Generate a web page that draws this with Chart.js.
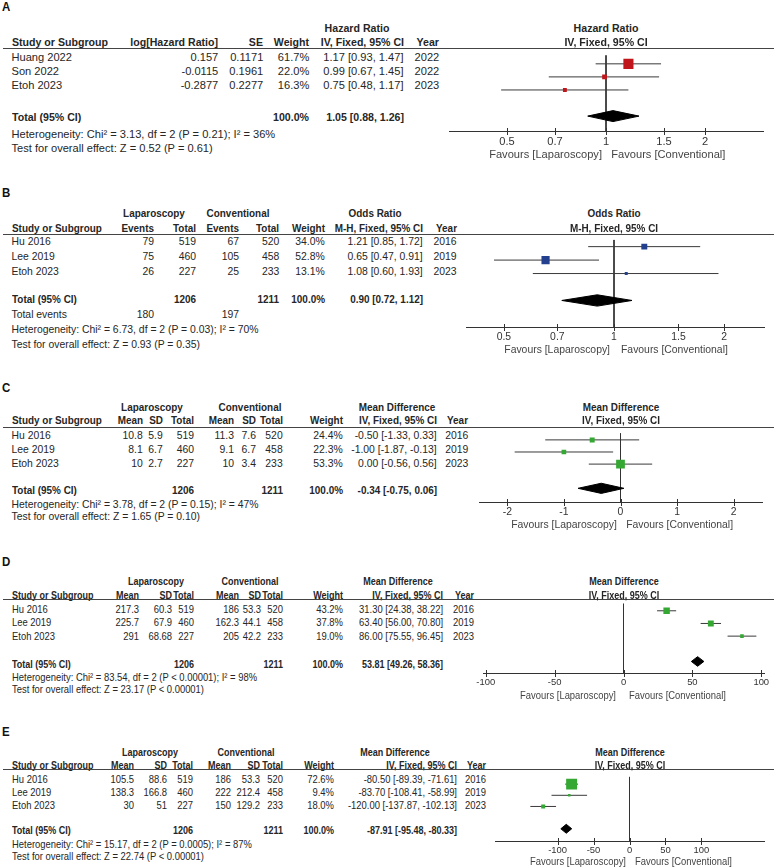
<!DOCTYPE html>
<html><head><meta charset="utf-8">
<script src="https://cdn.jsdelivr.net/npm/chart.js@4.4.1/dist/chart.umd.min.js"></script>
<style>
html,body{margin:0;padding:0;background:#fff;}
#page{position:relative;width:774px;height:868px;overflow:hidden;font-family:'Liberation Sans',Arial,Helvetica,sans-serif;color:#2f2f2f;}
.t{position:absolute;white-space:nowrap;line-height:1.2;}
.hl{position:absolute;height:1px;background:#444;}
</style></head><body><div id="page"></div>
<script>
// ================= DATA =================
// Panel A – Hazard ratio
const studiesA = ['Huang 2022', 'Son 2022', 'Etoh 2023'];
const logHR_A = [0.157, -0.0115, -0.2877];
const seA = [0.1171, 0.1961, 0.2277];
const weightA = [61.7, 22.0, 16.3];
const hrA = [1.17, 0.99, 0.75];
const hrLowA = [0.93, 0.67, 0.48];
const hrHighA = [1.47, 1.45, 1.17];
const yearA = [2022, 2022, 2023];
const totalHR_A = [1.05, 0.88, 1.26];
const hetA = 'Heterogeneity: Chi² = 3.13, df = 2 (P = 0.21); I² = 36%';
const testA = 'Test for overall effect: Z = 0.52 (P = 0.61)';
const ticksA = [0.5, 0.7, 1, 1.5, 2];

// Shared B–E
const studiesBE = ['Hu 2016', 'Lee 2019', 'Etoh 2023'];
const yearBE = [2016, 2019, 2023];
const nLap = [519, 460, 227];
const nCon = [520, 458, 233];
const totalLap = 1206;
const totalCon = 1211;

// Panel B – Odds ratio
const eventsLapB = [79, 75, 26];
const eventsConB = [67, 105, 25];
const weightB = [34.0, 52.8, 13.1];
const orB = [1.21, 0.65, 1.08];
const orLowB = [0.85, 0.47, 0.60];
const orHighB = [1.72, 0.91, 1.93];
const totalOR_B = [0.90, 0.72, 1.12];
const totalEventsB = [180, 197];
const hetB = 'Heterogeneity: Chi² = 6.73, df = 2 (P = 0.03); I² = 70%';
const testB = 'Test for overall effect: Z = 0.93 (P = 0.35)';
const ticksB = [0.5, 0.7, 1, 1.5, 2];

// Panel C – Mean difference
const meanLapC = [10.8, 8.1, 10];
const sdLapC = [5.9, 6.7, 2.7];
const meanConC = [11.3, 9.1, 10];
const sdConC = [7.6, 6.7, 3.4];
const weightC = [24.4, 22.3, 53.3];
const mdC = [-0.50, -1.00, 0.00];
const mdLowC = [-1.33, -1.87, -0.56];
const mdHighC = [0.33, -0.13, 0.56];
const totalMD_C = [-0.34, -0.75, 0.06];
const hetC = 'Heterogeneity: Chi² = 3.78, df = 2 (P = 0.15); I² = 47%';
const testC = 'Test for overall effect: Z = 1.65 (P = 0.10)';
const ticksC = [-2, -1, 0, 1, 2];

// Panel D – Mean difference
const meanLapD = [217.3, 225.7, 291];
const sdLapD = [60.3, 67.9, 68.68];
const meanConD = [186, 162.3, 205];
const sdConD = [53.3, 44.1, 42.2];
const weightD = [43.2, 37.8, 19.0];
const mdD = [31.30, 63.40, 86.00];
const mdLowD = [24.38, 56.00, 75.55];
const mdHighD = [38.22, 70.80, 96.45];
const totalMD_D = [53.81, 49.26, 58.36];
const hetD = 'Heterogeneity: Chi² = 83.54, df = 2 (P < 0.00001); I² = 98%';
const testD = 'Test for overall effect: Z = 23.17 (P < 0.00001)';
const ticksD = [-100, -50, 0, 50, 100];

// Panel E – Mean difference
const meanLapE = [105.5, 138.3, 30];
const sdLapE = [88.6, 166.8, 51];
const meanConE = [186, 222, 150];
const sdConE = [53.3, 212.4, 129.2];
const weightE = [72.6, 9.4, 18.0];
const mdE = [-80.50, -83.70, -120.00];
const mdLowE = [-89.39, -108.41, -137.87];
const mdHighE = [-71.61, -58.99, -102.13];
const totalMD_E = [-87.91, -95.48, -80.33];
const hetE = 'Heterogeneity: Chi² = 15.17, df = 2 (P = 0.0005); I² = 87%';
const testE = 'Test for overall effect: Z = 22.74 (P < 0.00001)';
const ticksE = [-100, -50, 0, 50, 100];

// ================= HELPERS =================
const FONT = "'Liberation Sans', Arial, Helvetica, sans-serif";
const TXT = '#262626';
const AXIS_H = 20;
const BOLD_SX = 0.955;
const page = document.getElementById('page');

function txt(x, y, s, fs, align, bold, color, sx) {
  const d = document.createElement('div');
  d.className = 't';
  d.textContent = s;
  d.style.fontSize = fs + 'px';
  d.style.left = x + 'px';
  d.style.top = (y - 0.6 * fs) + 'px';
  if (bold) d.style.fontWeight = 'bold';
  d.style.color = color || TXT;
  const k = (sx || 1) * (bold ? BOLD_SX : 1);
  const tx = align === 'right' ? '-100%' : align === 'center' ? '-50%' : '0';
  const org = align === 'right' ? 'right' : align === 'center' ? 'center' : 'left';
  d.style.transformOrigin = org + ' center';
  d.style.transform = 'translateX(' + tx + ') scaleX(' + k + ')';
  page.appendChild(d);
}
function hline(x1, x2, y) {
  const d = document.createElement('div');
  d.className = 'hl';
  d.style.left = x1 + 'px'; d.style.width = (x2 - x1) + 'px'; d.style.top = y + 'px';
  page.appendChild(d);
}
const ci = (e, l, h) => e.toFixed(2) + ' [' + l.toFixed(2) + ', ' + h.toFixed(2) + ']';
const pct = w => w.toFixed(1) + '%';

const tickMarks = {
  id: 'tickMarks',
  afterDraw(chart) {
    const s = chart.scales.x, ctx = chart.ctx;
    const y = Math.round(s.top);
    ctx.save();
    ctx.strokeStyle = '#333'; ctx.lineWidth = 1;
    ctx.beginPath();
    s.ticks.forEach(t => {
      const x = Math.round(s.getPixelForValue(t.value)) + 0.5;
      ctx.moveTo(x, y - 3); ctx.lineTo(x, y + 4);
    });
    ctx.stroke();
    ctx.restore();
  }
};

// Builds the forest plot part with Chart.js; returns page x of the null line
function forest(p) {
  const wrap = document.createElement('div');
  wrap.style.cssText = 'position:absolute;left:430px;top:' + p.lineY + 'px;width:344px;height:' + (p.axisY - p.lineY + AXIS_H) + 'px;';
  const cv = document.createElement('canvas');
  wrap.appendChild(cv); page.appendChild(wrap);
  const rows = p.est.map((_, i) => i + 1);
  const tr = p.est.length + 2;
  const ds = [];
  ds.push({
    type: 'scatter', order: 0,
    data: p.est.map((v, i) => ({x: v, y: rows[i]})),
    pointStyle: 'rect',
    pointRadius: p.weight.map(w => p.sq * Math.pow(w, 0.72) / Math.SQRT2),
    backgroundColor: p.color, borderColor: p.color, borderWidth: 0
  });
  ds.push({
    type: 'line', order: 1,
    data: [{x: p.tot[1], y: tr}, {x: p.tot[0], y: tr - p.dh}, {x: p.tot[2], y: tr}, {x: p.tot[0], y: tr + p.dh}, {x: p.tot[1], y: tr}],
    fill: 'shape', backgroundColor: '#000', borderColor: '#000', borderWidth: 1, pointRadius: 0, tension: 0
  });
  p.lo.forEach((lo, i) => ds.push({
    type: 'line', order: 2,
    data: [{x: lo, y: rows[i]}, {x: p.hi[i], y: rows[i]}],
    borderColor: '#3a3a3a', borderWidth: 1, pointRadius: 0, fill: false
  }));
  ds.push({
    type: 'line', order: 3,
    data: [{x: p.nullV, y: p.yMin}, {x: p.nullV, y: p.yMax}],
    borderColor: '#333', borderWidth: 1, pointRadius: 0, fill: false
  });
  const chart = new Chart(cv, {
    type: 'scatter',
    data: {datasets: ds},
    options: {
      responsive: true, maintainAspectRatio: false, animation: false, events: [],
      layout: {padding: {left: p.padL, right: p.padR, top: 0, bottom: 0}},
      plugins: {legend: {display: false}, tooltip: {enabled: false}},
      scales: {
        x: {
          type: p.xType, min: p.xMin, max: p.xMax, bounds: 'data',
          afterBuildTicks: s => { s.ticks = p.ticks.map(v => ({value: v})); },
          afterFit: s => { s.height = AXIS_H; },
          grid: {display: false, drawTicks: true, tickLength: 4},
          border: {display: true, color: '#333', width: 1},
          ticks: {autoSkip: false, maxRotation: 0, minRotation: 0, padding: 0, color: '#333',
                  font: {family: FONT, size: p.tickFs}, callback: v => String(v)}
        },
        y: {type: 'linear', display: false, reverse: true, min: p.yMin, max: p.yMax, bounds: 'data'}
      }
    },
    plugins: [tickMarks]
  });
  return 430 + chart.scales.x.getPixelForValue(p.nullV);
}

function panel(L) {
  const fs = L.fs, sx = L.sx || 1;
  txt(2, L.labelY, L.letter, 12, 'left', true, '#111');
  L.head1.forEach(h => txt(h[1], L.h1, h[0], fs, 'center', true, null, sx));
  L.cols.forEach(c => {
    txt(c.x, L.h2, c.h, fs, c.align, true, null, sx);
    c.vals.forEach((v, i) => txt(c.x, L.rows[i], String(v), fs, c.align, false, null, sx));
  });
  hline(3, 774, L.plot.lineY);
  L.total.forEach(t => txt(t[1], L.totalY, t[0], fs, t[2], true, null, sx));
  (L.extra || []).forEach(t => txt(t[1], t[3], t[0], fs, t[2], false, null, sx));
  txt(11.5, L.hetY, L.het, fs, 'left', false, null, sx);
  txt(11.5, L.testY, L.test, fs, 'left', false, null, sx);
  const nx = forest(Object.assign({tickFs: fs * sx}, L.plot));
  txt(nx, L.h1, L.ptitle1, fs, 'center', true, null, sx);
  txt(nx, L.h2, L.ptitle2, fs, 'center', true, null, sx);
  txt(nx - L.favGap[0], L.favY, 'Favours [Laparoscopy]', fs, 'right', false, '#444', sx);
  txt(nx + L.favGap[1], L.favY, 'Favours [Conventional]', fs, 'left', false, '#444', sx);
}

// ================= PANELS =================
panel({
  letter: 'A', fs: 11.1, labelY: 7, h1: 28.3, h2: 42.7, rows: [57.5, 71.5, 86], totalY: 117.7, hetY: 134.7, testY: 148.3, favY: 155,
  head1: [['Hazard Ratio', 357]],
  cols: [
    {h: 'Study or Subgroup', x: 11.5, align: 'left', vals: studiesA},
    {h: 'log[Hazard Ratio]', x: 218.3, align: 'right', vals: logHR_A},
    {h: 'SE', x: 263.3, align: 'right', vals: seA},
    {h: 'Weight', x: 309.3, align: 'right', vals: weightA.map(pct)},
    {h: 'IV, Fixed, 95% CI', x: 403.5, align: 'right', vals: hrA.map((e, i) => ci(e, hrLowA[i], hrHighA[i]))},
    {h: 'Year', x: 439.3, align: 'right', vals: yearA}
  ],
  total: [['Total (95% CI)', 11.5, 'left'], [pct(100), 309.3, 'right'], [ci(totalHR_A[0], totalHR_A[1], totalHR_A[2]), 403.5, 'right']],
  het: hetA, test: testA,
  ptitle1: 'Hazard Ratio', ptitle2: 'IV, Fixed, 95% CI', favGap: [4, 5.3],
  plot: {lineY: 48, axisY: 131, yMin: 0.336, yMax: 6.14, xType: 'logarithmic', xMin: 1 / 3, xMax: 3, padL: 19, padR: 11,
         nullV: 1, ticks: ticksA, est: hrA, lo: hrLowA, hi: hrHighA, weight: weightA, tot: totalHR_A,
         color: '#c0161b', sq: 0.52, dh: 0.42}
});

panel({
  letter: 'B', fs: 10.4, labelY: 193.3, h1: 214.3, h2: 229.3, rows: [242.5, 257.5, 272], totalY: 300, hetY: 330, testY: 345, favY: 350,
  head1: [['Laparoscopy', 153.7], ['Conventional', 238.3], ['Odds Ratio', 375]],
  cols: [
    {h: 'Study or Subgroup', x: 11.5, align: 'left', vals: studiesBE},
    {h: 'Events', x: 154, align: 'right', vals: eventsLapB},
    {h: 'Total', x: 196, align: 'right', vals: nLap},
    {h: 'Events', x: 239, align: 'right', vals: eventsConB},
    {h: 'Total', x: 279.3, align: 'right', vals: nCon},
    {h: 'Weight', x: 324.7, align: 'right', vals: weightB.map(pct)},
    {h: 'M-H, Fixed, 95% CI', x: 422.7, align: 'right', vals: orB.map((e, i) => ci(e, orLowB[i], orHighB[i]))},
    {h: 'Year', x: 456.5, align: 'right', vals: yearBE}
  ],
  total: [['Total (95% CI)', 11.5, 'left'], [String(totalLap), 196, 'right'], [String(totalCon), 279.3, 'right'], [pct(100), 324.7, 'right'],
          [ci(totalOR_B[0], totalOR_B[1], totalOR_B[2]), 422.7, 'right']],
  extra: [['Total events', 11.5, 'left', 315], [String(totalEventsB[0]), 154, 'right', 315], [String(totalEventsB[1]), 239, 'right', 315]],
  het: hetB, test: testB,
  ptitle1: 'Odds Ratio', ptitle2: 'M-H, Fixed, 95% CI', favGap: [4, 7],
  plot: {lineY: 234, axisY: 327, yMin: 0.491, yMax: 6.972, xType: 'logarithmic', xMin: 0.394, xMax: 2.57, padL: 36, padR: 10,
         nullV: 1, ticks: ticksB, est: orB, lo: orLowB, hi: orHighB, weight: weightB, tot: totalOR_B,
         color: '#23408e', sq: 0.47, dh: 0.42}
});

panel({
  letter: 'C', fs: 10.4, labelY: 387.7, h1: 408.3, h2: 421.7, rows: [436.7, 450, 464], totalY: 491.7, hetY: 505, testY: 517, favY: 525,
  head1: [['Laparoscopy', 151.7], ['Conventional', 250], ['Mean Difference', 396.7]],
  cols: [
    {h: 'Study or Subgroup', x: 11.5, align: 'left', vals: studiesBE},
    {h: 'Mean', x: 142.7, align: 'right', vals: meanLapC},
    {h: 'SD', x: 162.7, align: 'right', vals: sdLapC},
    {h: 'Total', x: 194, align: 'right', vals: nLap},
    {h: 'Mean', x: 234, align: 'right', vals: meanConC},
    {h: 'SD', x: 256, align: 'right', vals: sdConC},
    {h: 'Total', x: 282.7, align: 'right', vals: nCon},
    {h: 'Weight', x: 342.7, align: 'right', vals: weightC.map(pct)},
    {h: 'IV, Fixed, 95% CI', x: 436.7, align: 'right', vals: mdC.map((e, i) => ci(e, mdLowC[i], mdHighC[i]))},
    {h: 'Year', x: 468.3, align: 'right', vals: yearBE}
  ],
  total: [['Total (95% CI)', 11.5, 'left'], [String(totalLap), 194, 'right'], [String(totalCon), 282.7, 'right'], [pct(100), 342.7, 'right'],
          [ci(totalMD_C[0], totalMD_C[1], totalMD_C[2]), 436.7, 'right']],
  het: hetC, test: testC,
  ptitle1: 'Mean Difference', ptitle2: 'IV, Fixed, 95% CI', favGap: [3.6, 5.7],
  plot: {lineY: 427, axisY: 502, yMin: 0.447, yMax: 6.129, xType: 'linear', xMin: -2.5, xMax: 2.5, padL: 49, padR: 12,
         nullV: 0, ticks: ticksC, est: mdC, lo: mdLowC, hi: mdHighC, weight: weightC, tot: totalMD_C,
         color: '#35a834', sq: 0.5, dh: 0.42}
});

panel({
  letter: 'D', fs: 10.6, sx: 0.89, labelY: 561.7, h1: 581.7, h2: 595, rows: [609, 622.7, 636], totalY: 664, hetY: 677, testY: 689, favY: 695,
  head1: [['Laparoscopy', 155.8], ['Conventional', 250], ['Mean Difference', 397.5]],
  cols: [
    {h: 'Study or Subgroup', x: 11.5, align: 'left', vals: studiesBE},
    {h: 'Mean', x: 139.3, align: 'right', vals: meanLapD},
    {h: 'SD', x: 171.5, align: 'right', vals: sdLapD},
    {h: 'Total', x: 194, align: 'right', vals: nLap},
    {h: 'Mean', x: 239, align: 'right', vals: meanConD},
    {h: 'SD', x: 261, align: 'right', vals: sdConD},
    {h: 'Total', x: 282.7, align: 'right', vals: nCon},
    {h: 'Weight', x: 342.7, align: 'right', vals: weightD.map(pct)},
    {h: 'IV, Fixed, 95% CI', x: 442.5, align: 'right', vals: mdD.map((e, i) => ci(e, mdLowD[i], mdHighD[i]))},
    {h: 'Year', x: 474.3, align: 'right', vals: yearBE}
  ],
  total: [['Total (95% CI)', 11.5, 'left'], [String(totalLap), 194, 'right'], [String(totalCon), 282.7, 'right'], [pct(100), 342.7, 'right'],
          [ci(totalMD_D[0], totalMD_D[1], totalMD_D[2]), 442.5, 'right']],
  het: hetD, test: testD,
  ptitle1: 'Mean Difference', ptitle2: 'IV, Fixed, 95% CI', favGap: [7.3, 5.2],
  plot: {lineY: 599, axisY: 673, yMin: 0.43, yMax: 5.911, xType: 'linear', xMin: -102, xMax: 102, padL: 53, padR: 10,
         nullV: 0, ticks: ticksD, est: mdD, lo: mdLowD, hi: mdHighD, weight: weightD, tot: totalMD_D,
         color: '#35a834', sq: 0.43, dh: 0.38}
});

panel({
  letter: 'E', fs: 10.6, sx: 0.89, labelY: 731.7, h1: 752.7, h2: 765.7, rows: [779, 792, 805], totalY: 830.7, hetY: 844, testY: 856.7, favY: 861.7,
  head1: [['Laparoscopy', 149.7], ['Conventional', 246.3], ['Mean Difference', 395]],
  cols: [
    {h: 'Study or Subgroup', x: 11.5, align: 'left', vals: studiesBE},
    {h: 'Mean', x: 134.3, align: 'right', vals: meanLapE},
    {h: 'SD', x: 166.7, align: 'right', vals: sdLapE},
    {h: 'Total', x: 193.3, align: 'right', vals: nLap},
    {h: 'Mean', x: 230.7, align: 'right', vals: meanConE},
    {h: 'SD', x: 260, align: 'right', vals: sdConE},
    {h: 'Total', x: 282.7, align: 'right', vals: nCon},
    {h: 'Weight', x: 334.3, align: 'right', vals: weightE.map(pct)},
    {h: 'IV, Fixed, 95% CI', x: 456.5, align: 'right', vals: mdE.map((e, i) => ci(e, mdLowE[i], mdHighE[i]))},
    {h: 'Year', x: 486, align: 'right', vals: yearBE}
  ],
  total: [['Total (95% CI)', 11.5, 'left'], [String(totalLap), 193.3, 'right'], [String(totalCon), 282.7, 'right'], [pct(100), 334.3, 'right'],
          [ci(totalMD_E[0], totalMD_E[1], totalMD_E[2]), 456.5, 'right']],
  het: hetE, test: testE,
  ptitle1: 'Mean Difference', ptitle2: 'IV, Fixed, 95% CI', favGap: [4, 5],
  plot: {lineY: 769, axisY: 841, yMin: 0.336, yMax: 6.096, xType: 'linear', xMin: -187, xMax: 187, padL: 65, padR: 10,
         nullV: 0, ticks: ticksE, est: mdE, lo: mdLowE, hi: mdHighE, weight: weightE, tot: totalMD_E,
         color: '#35a834', sq: 0.5, dh: 0.4}
});
</script>
</body></html>
